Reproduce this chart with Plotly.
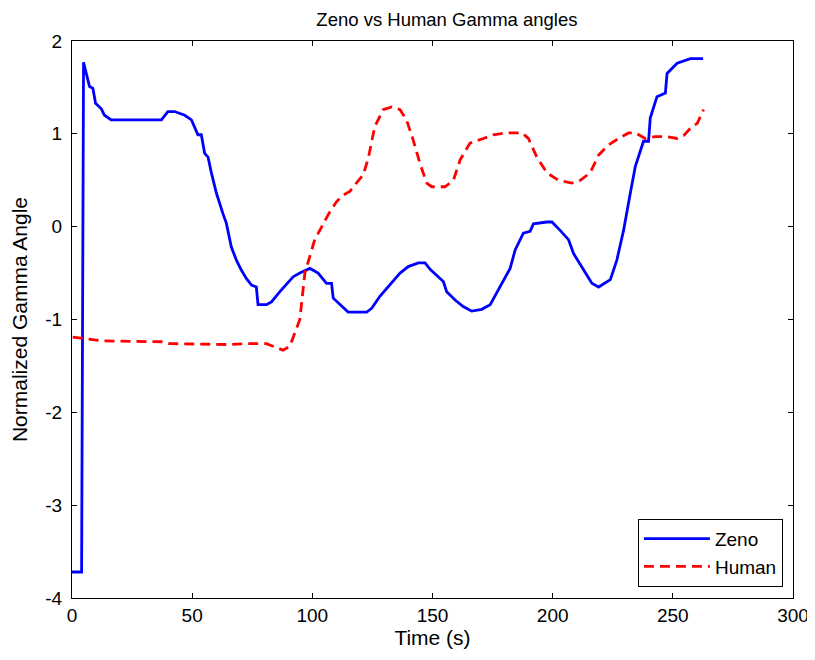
import plotly.graph_objects as go

zeno_t = [0, 3.5, 4.0, 4.8, 7.3, 8.7, 9.8, 12.2, 13.5, 16.3, 37.2, 39.9, 42.7, 46.9, 49.7, 52.4, 53.8,
          55.2, 56.6, 58.0, 60.1, 62.8, 64.2, 66.3, 68.4, 70.5, 72.6, 74.7, 76.7, 77.4, 80.9, 83.0,
          86.5, 92.0, 94.8, 99.0, 102.4, 105.9, 108.0, 108.7, 111.5, 114.9, 122.6, 124.7, 128.1,
          132.3, 136.5, 139.9, 144.1, 146.9, 149.0, 154.5, 155.9, 159.4, 162.8, 166.3, 170.5, 174.0,
          178.1, 182.3, 184.4, 187.8, 190.6, 192.0, 197.6, 199.7, 203.1, 206.6, 208.7, 212.8, 216.3,
          219.1, 224.0, 226.7, 229.5, 232.3, 234.4, 237.8, 239.9, 240.6, 243.4, 246.9, 247.6, 251.8,
          255.9, 257.3, 262.6]
zeno_y = [-3.72, -3.72, -3.72, 1.77, 1.51, 1.49, 1.33, 1.27, 1.20, 1.15, 1.15, 1.24, 1.24, 1.20, 1.15,
          0.99, 0.99, 0.79, 0.75, 0.58, 0.36, 0.14, 0.04, -0.22, -0.36, -0.47, -0.56, -0.63, -0.65,
          -0.84, -0.84, -0.81, -0.70, -0.54, -0.50, -0.45, -0.50, -0.61, -0.61, -0.77, -0.84, -0.92,
          -0.92, -0.88, -0.75, -0.63, -0.50, -0.43, -0.39, -0.39, -0.46, -0.59, -0.70, -0.79, -0.86,
          -0.91, -0.89, -0.84, -0.65, -0.45, -0.25, -0.07, -0.05, 0.03, 0.05, 0.05, -0.04, -0.14,
          -0.29, -0.47, -0.61, -0.65, -0.57, -0.36, -0.04, 0.36, 0.65, 0.92, 0.92, 1.17, 1.40, 1.44,
          1.65, 1.76, 1.80, 1.81, 1.81]

human_t = [0.3, 12.8, 37.8, 40.6, 65.6, 72.6, 80.9, 85.1, 87.8, 90.6, 92.7, 94.8, 96.9, 99.0, 101.0,
           103.1, 106.6, 110.1, 112.8, 115.6, 119.1, 121.2, 123.3, 126.0, 129.5, 133.0, 136.5, 139.2,
           142.0, 144.8, 147.6, 149.7, 155.2, 158.7, 161.5, 165.6, 171.2, 175.3, 180.9, 187.2, 189.9,
           193.4, 197.6, 202.4, 208.0, 211.5, 215.6, 219.1, 223.2, 227.4, 231.6, 234.4, 238.5, 242.7,
           247.6, 251.8, 254.5, 258.0, 260.1, 262.8]
human_y = [-1.19, -1.23, -1.24, -1.26, -1.27, -1.26, -1.26, -1.30, -1.33, -1.29, -1.15, -1.0, -0.50,
           -0.30, -0.14, -0.04, 0.13, 0.27, 0.34, 0.38, 0.50, 0.56, 0.74, 1.08, 1.26, 1.29, 1.26, 1.15,
           0.93, 0.68, 0.47, 0.43, 0.43, 0.50, 0.72, 0.90, 0.95, 0.99, 1.01, 1.01, 0.95, 0.75, 0.58,
           0.50, 0.47, 0.50, 0.58, 0.77, 0.88, 0.95, 1.01, 1.01, 0.95, 0.97, 0.97, 0.95, 0.98, 1.08,
           1.11, 1.26]

x_ticks = [0, 50, 100, 150, 200, 250, 300]
y_ticks = [-4, -3, -2, -1, 0, 1, 2]
y_tick_text = ["-4", "-3", "-2", "-1", "0", "1", "2"]

FONT = "Liberation Sans, Arial, Helvetica"

fig = go.Figure()
fig.add_trace(go.Scatter(x=zeno_t, y=zeno_y, mode="lines", name="Zeno",
                         line=dict(color="#0000ff", width=2.8)))
fig.add_trace(go.Scatter(x=human_t, y=human_y, mode="lines", name="Human",
                         line=dict(color="#ff0000", width=2.8, dash="10px,6px")))

axis_common = dict(showgrid=False, zeroline=False, showline=True, linecolor="black", linewidth=1,
                   mirror="ticks", ticks="inside", ticklen=5, tickcolor="black", automargin=False,
                   tickfont=dict(family=FONT, size=19, color="black"))

fig.update_layout(
    width=815, height=660,
    paper_bgcolor="white", plot_bgcolor="white",
    margin=dict(l=64, r=30, t=33, b=70),
    title=dict(text="Zeno vs Human Gamma angles", xref="paper", x=0.52, xanchor="center",
               yref="container", y=0.993, yanchor="top", automargin=False,
               font=dict(family=FONT, size=18.5, color="black")),
    font=dict(family=FONT, size=18, color="black"),
    xaxis=dict(range=[0, 300], tickvals=x_ticks, ticklabelstandoff=0,
               title=dict(text="Time (s)", standoff=5, font=dict(size=21)), **axis_common),
    yaxis=dict(range=[-4, 2], tickvals=y_ticks, ticktext=y_tick_text, ticklabelstandoff=5,
               title=dict(text="Normalized Gamma Angle", standoff=13, font=dict(size=21)), **axis_common),
    legend=dict(x=0.986, y=0.02, xanchor="right", yanchor="bottom", bgcolor="white",
                bordercolor="black", borderwidth=1, font=dict(size=19), itemwidth=66,
                tracegroupgap=4),
    showlegend=True,
)

fig.write_html("out.html")
